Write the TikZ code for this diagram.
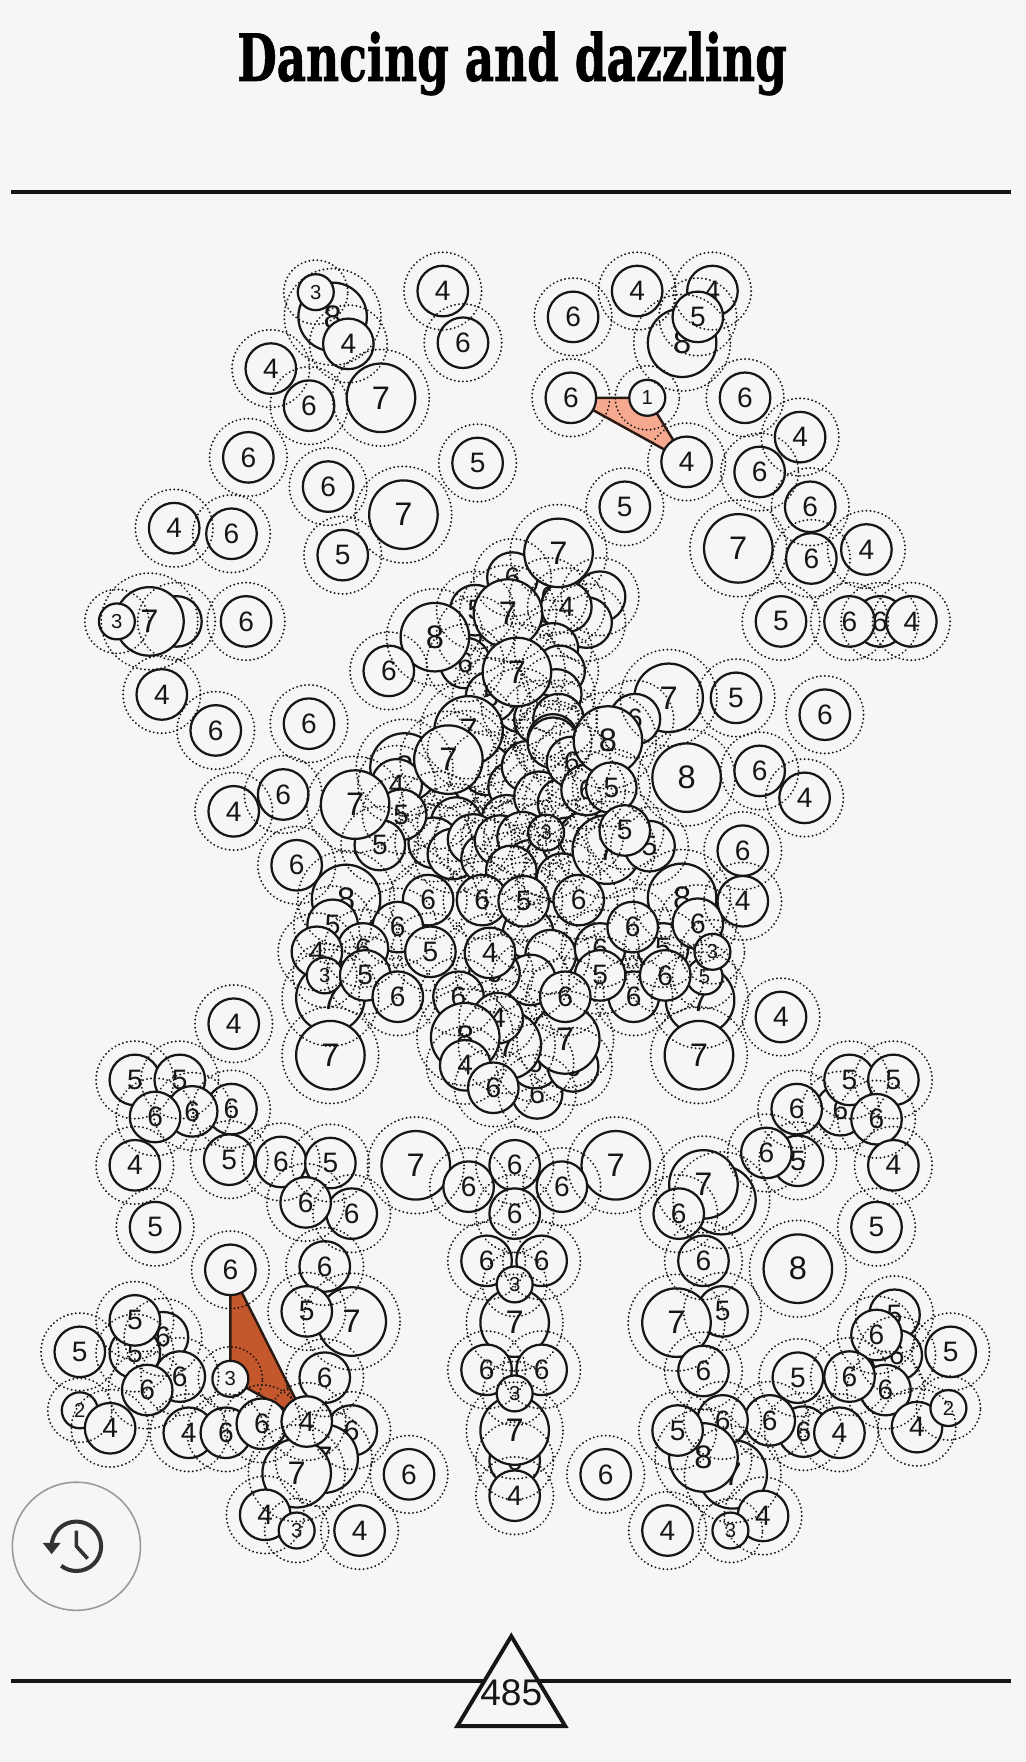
\documentclass[tikz,border=0pt]{standalone}
\usepackage{fontspec}
\usepackage{graphicx}
\setmainfont{Liberation Sans}
\newfontfamily\numfont{Liberation Sans}
\newfontfamily\titlefont[BoldFeatures={FakeBold=1.2}]{DejaVu Serif}
\definecolor{bg}{HTML}{F7F6F6}
\definecolor{ink}{HTML}{161616}
\definecolor{salmon}{HTML}{F6A98F}
\definecolor{rust}{HTML}{C4572B}
\definecolor{edge}{HTML}{2A1A14}
\definecolor{greyring}{HTML}{9A9A9A}
\definecolor{iconink}{HTML}{333333}
\pgfdeclarelayer{back}
\pgfdeclarelayer{front}
\pgfsetlayers{back,main,front}
\tikzset{
 ballbase/.style={circle, draw=ink, line width=2pt, fill=bg, inner sep=0pt, text=ink},
 ballS/.style={ballbase, minimum size=32pt, font=\numfont\fontsize{18}{18}\selectfont},
 ballM/.style={ballbase, minimum size=45pt, font=\numfont\fontsize{25}{25}\selectfont},
 ballL/.style={ballbase, minimum size=61pt, font=\numfont\fontsize{29}{29}\selectfont},
 ringbase/.style={circle, draw=ink, line width=1.9pt, dash pattern=on 0.01pt off 3.6pt, line cap=round, inner sep=0pt},
 ringS/.style={ringbase, minimum size=57pt},
 ringM/.style={ringbase, minimum size=69pt},
 ringL/.style={ringbase, minimum size=86pt},
 rule/.style={draw=ink, line width=3.5pt},
 polyedge/.style={draw=edge, line width=2.2pt, line join=round},
}
\def\balls{%
296/282/8/L,281/260/3/S,310/306/4/M,%
394/259/4/M,412/305/6/M,241/328/4/M,275/361/6/M,339/354/7/L,%
221/407/6/M,292/433/6/M,359/458/7/L,425/412/5/M,%
155/470/4/M,206/475/6/M,305/494/5/M,%
157/553/5/M,133/553/7/L,104/553/3/S,219/553/6/M,%
144/618/4/M,192/650/6/M,275/644/6/M,%
208/722/4/M,252/707/6/M,264/770/6/M,%
510/282/6/M,567/259/4/M,634/259/4/M,607/305/8/L,621/282/5/M,%
663/354/6/M,712/389/4/M,676/420/6/M,721/451/6/M,556/451/5/M,%
657/488/7/L,722/497/6/M,771/489/4/M,695/553/5/M,%
783/553/6/M,811/553/4/M,756/553/6/M,%
595/621/7/L,655/621/5/M,734/636/6/M,%
676/686/6/M,716/710/4/M,661/757/6/M,695/905/4/M,%
534/531//M,522/554//M,488/531/6/M,504/540/4/M,%
492/577//M,498/597//M,495/618//M,463/629//M,480/640//M,497/640//M,492/658//M,%
423/565/5/M,414/590/6/M,437/620/5/M,%
415/667//M,433/685//M,457/700//M,451/730//M,389/721//M,406/732//M,386/750//M,%
403/760//M,421/747//M,433/764//M,445/748//M,%
469/682//M,480/709//M,501/715//M,492/661//M,%
465/745//M,472/770//M,490/765//M,505/750//M,520/745//M,500/782//M,455/775//M,%
565/640/6/M,509/678/6/M,522/703/6/M,540/756/7/L,578/753/5/M,%
456/514/6/M,497/492/7/L,423/543/5/M,452/546/7/L,387/567/8/L,346/597/6/M,460/598/7/L,%
417/650/7/L,360/683/8/L,353/698/4/M,399/676/7/L,%
357/725/5/M,338/752/5/M,316/716/7/L,%
541/659/8/L,544/701/5/M,486/741/3/S,556/739/5/M,611/692/8/L,%
308/800/8/L,381/801/6/M,429/801/6/M,470/830//M,490/850//M,472/872//M,466/802/5/M,515/801/6/M,%
296/823/5/M,354/825/6/M,323/844/6/M,294/888/7/L,282/847/4/M,289/868/3/S,325/868/5/M,%
354/887/6/M,383/847/5/M,440/866/6/M,408/887/6/M,436/848/4/M,%
607/799/8/L,534/844/6/M,590/844/5/M,563/825/6/M,621/822/6/M,623/890/7/L,627/869/5/S,%
661/802/4/M,634/847/3/S,564/887/6/M,534/868/5/M,592/868/6/M,%
478/973/6/M,476/946/6/M,510/949/6/M,503/925/7/L,503/887/6/M,451/930/7/L,443/906/4/M,%
414/923/8/L,414/948/4/M,439/968/6/M,%
294/939/7/L,622/939/7/L,208/911/4/M,%
120/961/5/M,160/961/5/M,206/987/6/M,171/989/6/M,138/994/6/M,%
120/1037/4/M,204/1032/5/M,250/1034/6/M,313/1080/6/M,294/1035/5/M,272/1070/6/M,138/1092/5/M,%
289/1127/6/M,313/1176/7/L,273/1167/5/M,289/1226/6/M,%
145/1190/6/M,120/1204/5/M,120/1175/5/M,71/1203/5/M,160/1225/6/M,131/1237/6/M,%
71/1255/2/S,98/1271/4/M,168/1275/4/M,201/1275/6/M,233/1267/6/M,%
313/1273/6/M,288/1298/7/L,264/1311/7/L,%
364/1312/6/M,236/1348/4/M,264/1362/3/S,320/1362/4/M,%
370/1037/7/L,548/1037/7/L,417/1056/6/M,500/1056/6/M,458/1037/6/M,458/1080/6/M,%
433/1122/6/M,482/1122/6/M,458/1177/7/L,458/1143/3/S,433/1219/6/M,482/1219/6/M,%
458/1300/6/M,458/1273/7/L,458/1240/3/S,458/1331/4/M,539/1312/6/M,%
642/1068/7/L,626/1054/7/L,604/1080/6/M,710/1033/5/M,682/1026/6/M,%
748/988/6/M,756/961/5/M,795/961/5/M,780/996/6/M,709/987/6/M,795/1037/4/M,780/1092/5/M,%
710/1129/8/L,626/1122/6/M,643/1167/5/M,602/1177/7/L,626/1220/6/M,%
796/1170/5/M,798/1206/6/M,780/1188/6/M,846/1203/5/M,788/1237/6/M,756/1225/6/M,710/1226/5/M,%
816/1270/4/M,844/1253/2/S,715/1274/6/M,747/1275/4/M,685/1264/6/M,%
652/1312/7/L,643/1264/6/M,626/1297/8/L,603/1273/5/M,%
594/1362/4/M,679/1349/4/M,650/1362/3/S%
}
\def\specials{%
pA/205/1130/6/M,pB/205/1227/3/S,pC/273/1265/4/M,%
pD/508/354/6/M,pE/576/354/1/S,pF/611/411/4/M%
}
\begin{document}
\begin{tikzpicture}[x=1pt,y=-1pt]
\useasboundingbox (0,0) rectangle (913,1568);
\begin{pgfonlayer}{back}
\fill[bg] (0,0) rectangle (913,1568);
\end{pgfonlayer}
% title and rules
\node[anchor=base west, inner sep=0pt, text=black] (title) at (211,72)
  {\resizebox{489pt}{44pt}{\titlefont\bfseries Dancing and dazzling}};
\coordinate (tl) at (10,171);
\coordinate (tr) at (900,171);
\draw[rule] (tl) -- (tr);
% circles
\foreach \x/\y/\l/\k [count=\i] in \balls {
  \node[ball\k] (c\i) at (\x,\y) {\l};
}
\foreach \n/\x/\y/\l/\k in \specials {
  \node[ball\k] (\n) at (\x,\y) {\l};
}
% polygons under circles
\begin{pgfonlayer}{back}
\filldraw[polyedge, fill=salmon] (pD.center) -- (pE.center) -- (pF.center) -- cycle;
\filldraw[polyedge, fill=rust] (pA.center) -- (pB.center) -- (pC.center) -- cycle;
\end{pgfonlayer}
% dotted rings on top
\begin{pgfonlayer}{front}
\foreach \x/\y/\l/\k [count=\i] in \balls {
  \node[ring\k] (r\i) at (c\i.center) {};
}
\foreach \n/\x/\y/\l/\k in \specials {
  \node[ring\k] (r\n) at (\n.center) {};
}
\end{pgfonlayer}
% bottom rule and score
\coordinate (bl) at (10,1496);
\coordinate (br) at (900,1496);
\draw[rule] (bl) -- (br);
\coordinate (ta) at (455,1456);
\coordinate (tb) at (503,1536);
\coordinate (tc) at (407,1536);
\filldraw[rule, fill=bg, line join=miter] (ta) -- (tb) -- (tc) -- cycle;
\node[text=ink, font=\numfont\fontsize{33}{33}\selectfont, inner sep=0pt] (score) at (455,1506) {485};
% history button
\node[circle, draw=greyring, line width=1.4pt, minimum size=114pt, inner sep=0pt, fill=bg] (hist) at (68,1376) {};
\draw[iconink, line width=3.6pt] ([shift={(180:22pt)}]hist.center) arc[start angle=180, end angle=-128, radius=22pt];
\coordinate (ah1) at (38,1373);
\coordinate (ah2) at (54,1373);
\coordinate (ah3) at (46,1383);
\fill[iconink] (ah1) -- (ah2) -- (ah3) -- cycle;
\coordinate (hand1) at (68,1362);
\coordinate (hand3) at (78,1387);
\draw[iconink, line width=3.2pt, line join=round] (hand1) -- (hist.center) -- (hand3);
\end{tikzpicture}
\end{document}
